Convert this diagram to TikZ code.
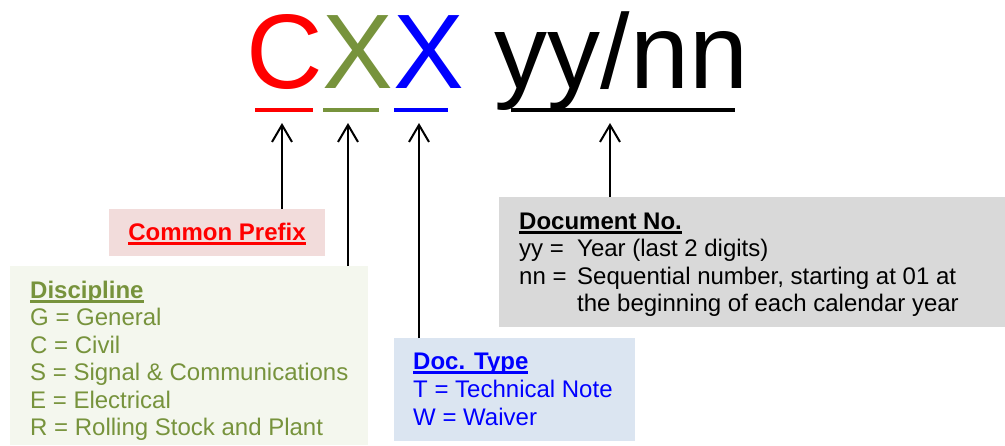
\documentclass[tikz,border=0pt]{standalone}
\usepackage{fontspec}
\setmainfont{Liberation Sans}
\usetikzlibrary{arrows.meta}
\definecolor{prefixred}{HTML}{FF0000}
\definecolor{discgreen}{HTML}{77933C}
\definecolor{typeblue}{HTML}{0000FF}
\definecolor{prefixfill}{HTML}{F2DCDB}
\definecolor{discfill}{HTML}{F4F7EE}
\definecolor{typefill}{HTML}{DBE5F1}
\definecolor{docfill}{HTML}{D9D9D9}
\newcommand{\headline}[1]{\setbox0\hbox{\bfseries #1}\rlap{\rule[-4.5pt]{\wd0}{2.2pt}}\box0}

\begin{document}
\begin{tikzpicture}[x=1pt,y=-1pt,
        every node/.style={inner sep=0pt, font=\fontsize{24}{27.5}\selectfont},
        panel/.style={anchor=north west, inner sep=0pt, draw=none},
        textline/.style={anchor=base west},
        pointer/.style={-{Straight Barb[length=17pt,width=20pt]}, line width=2pt}]
    \useasboundingbox (0,0) rectangle (1005,445);
    \node[anchor=base west, font=\fontsize{106}{120}\selectfont] (code) at (246,88)
        {\textcolor{prefixred}{C}\textcolor{discgreen}{X}\textcolor{typeblue}{X}\hspace{1pt} yy/nn};
    \draw[prefixred, line width=4pt] (255,109.5) -- (313,109.5);
    \draw[discgreen, line width=4pt] (323,109.5) -- (379,109.5);
    \draw[typeblue, line width=4pt] (394,109.5) -- (448,109.5);
    \draw[line width=4pt] (511,109.5) -- (735,109.5);

    \node[panel, fill=prefixfill, minimum width=216pt, minimum height=47pt] (prefix) at (109,209) {};
    \node[anchor=base, text=prefixred] (prefixhead) at (217,240) {\headline{Common Prefix}};

    \node[panel, fill=discfill, minimum width=358pt, minimum height=179pt] (disc) at (10,266) {};
    \node[textline, text=discgreen] (dischead) at (30,298) {\headline{Discipline}};
    \foreach \txt [count=\i from 0] in {G = General, C = Civil, S = Signal \& Communications,
                                       E = Electrical, R = Rolling Stock and Plant}
        \node[textline, text=discgreen] (disc\i) at (30,{325.5+27.5*\i}) {\txt};

    \node[panel, fill=typefill, minimum width=241pt, minimum height=103pt] (type) at (394,338) {};
    \node[textline, text=typeblue] (typehead) at (413,369) {\headline{Doc. Type}};
    \node[textline, text=typeblue] (typeT) at (413,397) {T = Technical Note};
    \node[textline, text=typeblue] (typeW) at (413,425) {W = Waiver};

    \node[panel, fill=docfill, minimum width=506pt, minimum height=130pt] (doc) at (499,197) {};
    \node[textline] (dochead) at (519,229) {\headline{Document No.}};
    \node[textline] (docyy) at (519,256.5) {\makebox[58pt][l]{yy =}Year (last 2 digits)};
    \node[textline] (docnn) at (519,284) {\makebox[58pt][l]{nn =}Sequential number, starting at 01 at};
    \node[textline] (docnnb) at (577,311.5) {the beginning of each calendar year};

    \coordinate (tipC) at (282,123);
    \coordinate (tipD) at (348,123);
    \coordinate (tipT) at (419,123);
    \coordinate (tipN) at (610,123);
    \draw[pointer] (tipC |- prefix.north) -- (tipC);
    \draw[pointer] (tipD |- disc.north) -- (tipD);
    \draw[pointer] (tipT |- type.north) -- (tipT);
    \draw[pointer] (tipN |- doc.north) -- (tipN);
\end{tikzpicture}
\end{document}
